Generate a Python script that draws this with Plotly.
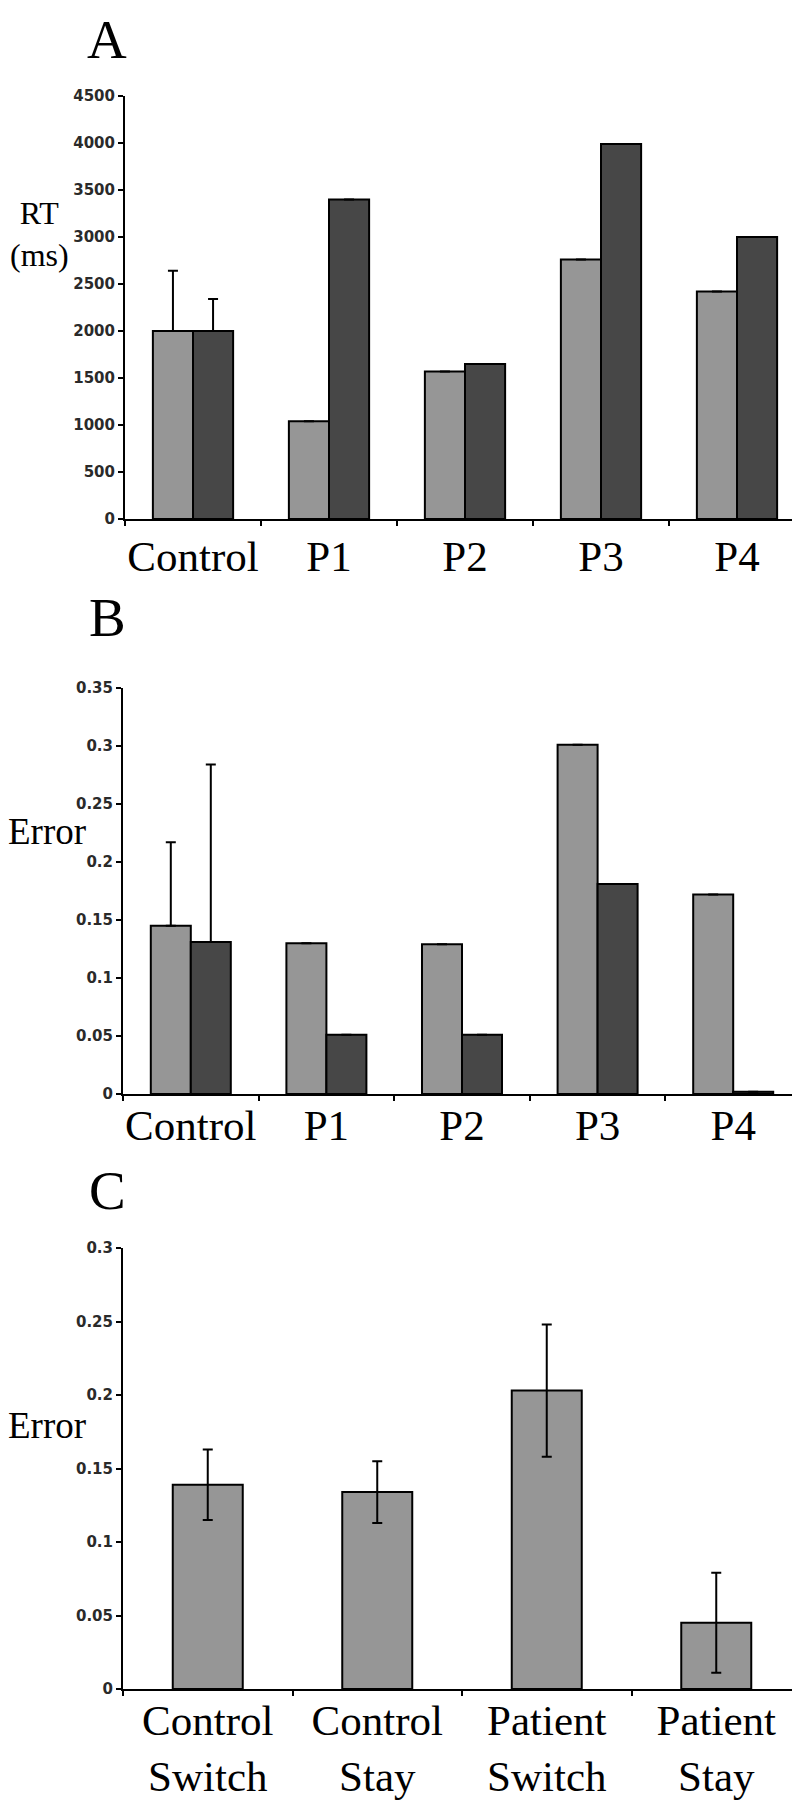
import plotly.graph_objects as go
from plotly.subplots import make_subplots

# panel A/B groups
GROUPS = ["Control", "P1", "P2", "P3", "P4"]

RT_LIGHT = [2000, 1040, 1570, 2760, 2420]
RT_DARK = [2000, 3400, 1650, 3990, 3000]
RT_LIGHT_ERR = [640, None, None, None, None]
RT_DARK_ERR = [340, None, None, None, None]

ERR_LIGHT = [0.145, 0.130, 0.129, 0.301, 0.172]
ERR_DARK = [0.131, 0.051, 0.051, 0.181, 0.002]
ERR_LIGHT_SD = [0.072, None, None, None, None]
ERR_DARK_SD = [0.153, None, None, None, None]

# panel C
CONDITIONS = ["Control<br>Switch", "Control<br>Stay", "Patient<br>Switch", "Patient<br>Stay"]
COND_ERR = [0.139, 0.134, 0.203, 0.045]
COND_SD = [0.024, 0.021, 0.045, 0.034]

LIGHT = "#969696"
DARK = "#474747"
SERIF = "Liberation Serif, Times New Roman, serif"
TICKFONT = dict(family="DejaVu Sans", size=15, color="#2a2a2a", weight="bold")

W, H = 800, 1800


def px_x(v):
    return v / W


def px_y(v):
    return 1 - v / H


fig = make_subplots(rows=3, cols=1)

bar_line = dict(color="black", width=2)


def err(arr):
    # one-sided (upward) error bars, as in the original
    return dict(type="data", array=arr, arrayminus=[0] * len(arr), symmetric=False,
                color="black", thickness=2, width=5)


fig.add_trace(go.Bar(x=GROUPS, y=RT_LIGHT, marker=dict(color=LIGHT, line=bar_line),
                     error_y=err(RT_LIGHT_ERR)), row=1, col=1)
fig.add_trace(go.Bar(x=GROUPS, y=RT_DARK, marker=dict(color=DARK, line=bar_line),
                     error_y=err(RT_DARK_ERR)), row=1, col=1)
fig.add_trace(go.Bar(x=GROUPS, y=ERR_LIGHT, marker=dict(color=LIGHT, line=bar_line),
                     error_y=err(ERR_LIGHT_SD)), row=2, col=1)
fig.add_trace(go.Bar(x=GROUPS, y=ERR_DARK, marker=dict(color=DARK, line=bar_line),
                     error_y=err(ERR_DARK_SD)), row=2, col=1)
fig.add_trace(go.Bar(x=CONDITIONS, y=COND_ERR, width=0.413,
                     marker=dict(color=LIGHT, line=bar_line),
                     error_y=dict(type="data", array=COND_SD, color="black", thickness=2, width=5)),
              row=3, col=1)

xcommon = dict(showline=True, linecolor="black", linewidth=2, ticks="outside", tickson="boundaries",
               ticklen=5, tickwidth=2, tickcolor="black", showgrid=False, zeroline=False,
               tickangle=0, automargin=False)
ycommon = dict(showline=True, linecolor="black", linewidth=2, ticks="outside", ticklen=5,
               tickwidth=2, tickcolor="black", showgrid=False, zeroline=False, tickfont=TICKFONT,
               automargin=False)

fig.update_layout(
    xaxis=dict(xcommon, domain=[px_x(117), px_x(797)], anchor="y", ticklabelstandoff=-2,
               tickfont=dict(family=SERIF, size=43, color="black")),
    yaxis=dict(ycommon, domain=[px_y(511), px_y(88)], range=[0, 4500], dtick=500, anchor="x"),
    xaxis2=dict(xcommon, domain=[px_x(115), px_x(793)], anchor="y2", ticklabelstandoff=-8,
                tickfont=dict(family=SERIF, size=43, color="black")),
    yaxis2=dict(ycommon, domain=[px_y(1086), px_y(680)], range=[0, 0.35], dtick=0.05, anchor="x2"),
    xaxis3=dict(xcommon, domain=[px_x(115), px_x(793)], anchor="y3", ticklabelstandoff=-8,
                tickfont=dict(family=SERIF, size=43, color="black")),
    yaxis3=dict(ycommon, domain=[px_y(1681), px_y(1240)], range=[0, 0.3], dtick=0.05, anchor="x3"),
    barmode="group", bargap=0.41, bargroupgap=0,
    showlegend=False,
    width=W, height=H,
    margin=dict(l=0, r=0, t=0, b=0),
    plot_bgcolor="white", paper_bgcolor="white",
)

letters = [("A", 31), ("B", 609), ("C", 1182)]
for txt, yc in letters:
    fig.add_annotation(text=txt, x=px_x(99), y=px_y(yc), xref="paper", yref="paper",
                       showarrow=False, xanchor="center", yanchor="middle",
                       font=dict(family=SERIF, size=55, color="black"))

labels = [("RT<br>(ms)", 31, 226, 32), ("Error", 39, 823, 37), ("Error", 39, 1417, 37)]
for txt, xc, yc, fs in labels:
    fig.add_annotation(text=txt, x=px_x(xc), y=px_y(yc), xref="paper", yref="paper",
                       showarrow=False, xanchor="center", yanchor="middle",
                       font=dict(family=SERIF, size=fs, color="black"))

fig.write_html("out.html")
